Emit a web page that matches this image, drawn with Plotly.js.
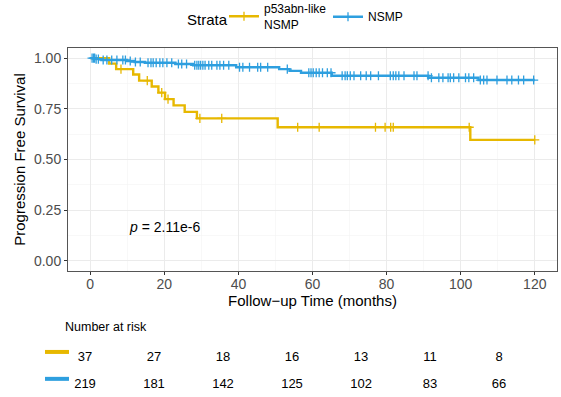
<!DOCTYPE html>
<html>
<head>
<meta charset="utf-8">
<script src="https://cdn.plot.ly/plotly-3.0.1.min.js"></script>
<style>html,body{margin:0;padding:0;background:#fff}#chart{width:561px;height:397px}</style>
</head>
<body>
<div id="chart"></div>
<script>
// ---- data ----
const legendTitle = "Strata";
const seriesNames = ["p53abn-like<br>NSMP", "NSMP"];
const colors = ["#E7B800", "#2E9FDF"];

const p53Times = [0, 5.1, 7.0, 11.6, 13.2, 16.6, 18.4, 20.2, 22.5, 25.5, 28.8, 50.6, 102.6];
const p53Surv  = [1, 0.973, 0.946, 0.919, 0.889, 0.860, 0.830, 0.798, 0.767, 0.735, 0.703, 0.659, 0.597];
const p53Censor = [8.3, 15.4, 19.3, 21.0, 29.6, 35.5, 56.0, 61.8, 77.0, 79.6, 81.1, 81.8, 102.3, 120];

const nsmpTimes = [0, 1.5, 3.0, 9.9, 12.0, 14.8, 23.0, 27.8, 39.4, 51.0, 53.8, 56.9, 65.2, 91.3, 104.8];
const nsmpSurv  = [1, 0.995, 0.991, 0.986, 0.981, 0.977, 0.971, 0.965, 0.955, 0.946, 0.937, 0.928, 0.913, 0.903, 0.892];
const nsmpCensor = [0.5, 0.9, 1.2, 1.6, 2.2, 3.5, 4.5, 5.8, 7.2, 8.8, 9.5, 10.8, 12.2, 13.5, 15.6, 16.4, 17.0,
  17.8, 18.8, 19.6, 20.7, 22.0, 23.8, 24.7, 26.0, 28.2, 28.8, 29.3, 29.8, 30.4, 31.0, 32.0, 32.8, 34.2,
  35.0, 36.0, 37.4, 40.3, 41.2, 43.0, 45.2, 46.0, 47.9, 53.2, 59.0, 59.6, 60.2, 61.0, 61.8, 62.7, 64.0,
  65.0, 68.0, 68.8, 69.4, 70.2, 71.2, 73.0, 74.5, 75.7, 77.8, 81.0, 81.8, 82.5, 83.3, 84.7, 87.4, 88.2,
  91.2, 92.1, 94.1, 95.2, 96.6, 97.2, 98.1, 99.5, 101.3, 102.2, 103.5, 105.3, 106.2, 107.1, 109.8,
  112.5, 113.8, 115.6, 117.0, 119.7];

const endTime = 120;
const pText = "<i>p</i> = 2.11e-6";
const pPos = [10, 0.165];

const riskTitle = "Number at risk";
const riskTimes = [0, 20, 40, 60, 80, 100, 120];
const riskP53  = [37, 27, 18, 16, 13, 11, 8];
const riskNsmp = [219, 181, 142, 125, 102, 83, 66];

const xTicks = [0, 20, 40, 60, 80, 100, 120];
const yTicks = [0, 0.25, 0.5, 0.75, 1];
const yTickText = ["0.00", "0.25", "0.50", "0.75", "1.00"];

// ---- helpers ----
function survAt(times, surv, t) {
  let s = surv[0];
  for (let i = 0; i < times.length; i++) { if (times[i] <= t) s = surv[i]; }
  return s;
}
function stepTrace(times, surv, color) {
  const x = times.concat([endTime]);
  const y = surv.concat([surv[surv.length - 1]]);
  return {x: x, y: y, type: "scatter", mode: "lines", line: {shape: "hv", color: color, width: 2.4},
          showlegend: false, hoverinfo: "skip", xaxis: "x", yaxis: "y"};
}
const cross = (color) => ({symbol: "cross-thin-open", size: 6.5, color: color, line: {color: color, width: 1.3}});
function censorTrace(times, surv, cens, color) {
  return {x: cens, y: cens.map(t => survAt(times, surv, t)), type: "scatter", mode: "markers",
          marker: cross(color), showlegend: false, hoverinfo: "skip", xaxis: "x", yaxis: "y"};
}
function legendTrace(name, color, legendId) {
  return {x: [null], y: [null], type: "scatter", mode: "lines+markers", name: name, legend: legendId,
          line: {color: color, width: 2.4}, marker: cross(color), xaxis: "x", yaxis: "y"};
}
function riskTrace(vals, row) {
  return {x: riskTimes, y: riskTimes.map(() => row), text: vals.map(String), type: "scatter", mode: "text",
          textposition: "middle center", textfont: {family: "Liberation Sans, Arial, sans-serif", size: 13, color: "#000"},
          showlegend: false, hoverinfo: "skip", xaxis: "x2", yaxis: "y2"};
}

const data = [
  stepTrace(p53Times, p53Surv, colors[0]),
  stepTrace(nsmpTimes, nsmpSurv, colors[1]),
  censorTrace(p53Times, p53Surv, p53Censor, colors[0]),
  censorTrace(nsmpTimes, nsmpSurv, nsmpCensor, colors[1]),
  legendTrace(seriesNames[0], colors[0], "legend"),
  legendTrace(seriesNames[1], colors[1], "legend2"),
  riskTrace(riskP53, 1),
  riskTrace(riskNsmp, 0)
];

const font = "Liberation Sans, Arial, sans-serif";
const legendBase = {orientation: "h", xanchor: "left", yanchor: "middle", y: 1.0907,
                    font: {size: 12, color: "#000"}, bgcolor: "rgba(0,0,0,0)", itemwidth: 30, valign: "middle"};
const layout = {
  width: 561, height: 397,
  margin: {l: 68, r: 4, t: 48, b: 4, autoexpand: false},
  paper_bgcolor: "#fff", plot_bgcolor: "#fff",
  font: {family: font, color: "#000"},
  showlegend: true,
  legend: Object.assign({}, legendBase, {x: 0.319}),
  legend2: Object.assign({}, legendBase, {x: 0.5317}),
  xaxis: {domain: [0, 1], range: [-6, 126], tickvals: xTicks, ticks: "outside", ticklen: 3, tickcolor: "#333",
          tickfont: {size: 14, color: "#4D4D4D"}, ticklabelstandoff: -3,
          showgrid: true, gridcolor: "#EBEBEB", gridwidth: 1,
          minor: {dtick: 10, tick0: 0, showgrid: true, gridcolor: "#F3F3F3", gridwidth: 0.6, ticks: ""},
          zeroline: false, showline: true, mirror: true, linecolor: "#555", linewidth: 1,
          title: {text: "Follow\u2212up Time (months)", font: {size: 15, color: "#000"}, standoff: 0},
          anchor: "y", automargin: false},
  yaxis: {domain: [0.3536, 1], range: [-0.05, 1.05], tickvals: yTicks, ticktext: yTickText, ticks: "outside",
          ticklen: 3, tickcolor: "#333", tickfont: {size: 14, color: "#4D4D4D"},
          showgrid: true, gridcolor: "#EBEBEB", gridwidth: 1,
          minor: {dtick: 0.125, tick0: 0, showgrid: true, gridcolor: "#F3F3F3", gridwidth: 0.6, ticks: ""},
          zeroline: false, showline: true, mirror: true, linecolor: "#555", linewidth: 1,
          title: {text: "Progression Free Survival", font: {size: 15, color: "#000"}, standoff: 4},
          anchor: "x", automargin: false},
  xaxis2: {domain: [0, 1], range: [-4.93, 136.8], visible: false, anchor: "y2", fixedrange: true},
  yaxis2: {domain: [0, 0.125], range: [-0.3, 1.3], visible: false, anchor: "x2", fixedrange: true},
  annotations: [
    {x: 0.239, y: 1.082, xref: "paper", yref: "paper", text: legendTitle, showarrow: false, xanchor: "left",
     yanchor: "middle", font: {size: 15, color: "#000"}},
    {x: pPos[0], y: pPos[1], xref: "x", yref: "y", text: pText, showarrow: false, xanchor: "left", yanchor: "middle",
     font: {size: 14, color: "#000"}},
    {x: -0.01, y: 0.19, xref: "paper", yref: "paper", text: riskTitle, showarrow: false, xanchor: "left",
     yanchor: "middle", font: {size: 12.5, color: "#000"}}
  ],
  shapes: [
    {type: "line", xref: "paper", yref: "paper", x0: -0.047, x1: 0.002, y0: 0.119, y1: 0.119,
     line: {color: colors[0], width: 4}},
    {type: "line", xref: "paper", yref: "paper", x0: -0.047, x1: 0.002, y0: 0.041, y1: 0.041,
     line: {color: colors[1], width: 4}}
  ]
};

Plotly.newPlot("chart", data, layout, {staticPlot: true, displayModeBar: false});
</script>
</body>
</html>
